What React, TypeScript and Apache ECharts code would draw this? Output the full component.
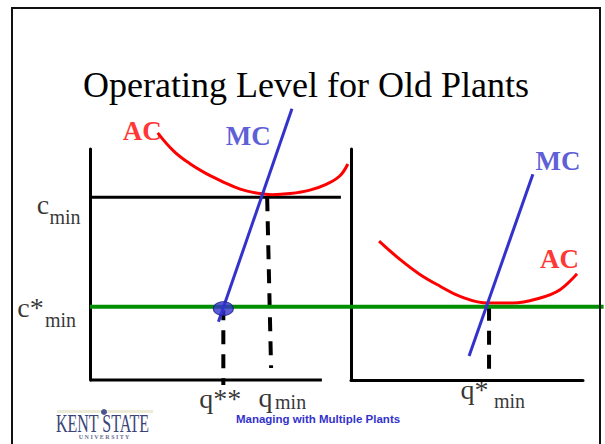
import React, { useEffect, useRef } from 'react';
import * as echarts from 'echarts';

// ---- texts ----
const titleText = 'Operating Level for Old Plants';
const footerText = 'Managing with Multiple Plants';
const logoText = 'KENT STATE';
const logoSubText = 'U N I V E R S I T Y';
const curveNames = ['AC', 'MC'];
const costTickMain = ['c', 'c*'];
const qtyTickMain = ['q**', 'q', 'q*'];
const tickSub = 'min';

// ---- diagram values (each panel: 0..100 on both axes) ----
const panelMax = 100;
const leftReach = 222.1; // left panel's units reach to the page's right edge
const cMin = 79.1;
const cStarMin = 31.7;
const cMinLineEnd = 108.2;
const greenLineEnd = 221.5;
const qStarStar = 57.5;
const qMinTop = 76.4;
const qMinBottom = 78.1;
const qStarMin = 59.5;
const plantDot = [57.5, 30.9];

const leftAC: number[][] = [
  [29.2, 107.0], [36.1, 99.1], [43.3, 93.5], [50.6, 89.1], [57.5, 85.7],
  [64.8, 82.6], [72.1, 80.9], [78.5, 80.2], [86.3, 80.7], [94.8, 82.2],
  [102.1, 84.8], [107.7, 88.3], [111.2, 93.5],
];
const leftMC: number[][] = [[87.1, 117.4], [55.4, 25.2]];
const rightAC: number[][] = [
  [12.1, 60.1], [21.1, 52.2], [29.7, 45.7], [38.4, 40.6], [47.0, 36.2],
  [59.1, 33.3], [69.8, 33.3], [81.5, 35.5], [90.1, 39.1], [97.4, 46.0],
];
const rightMC: number[][] = [[78.4, 89.1], [50.9, 10.4]];

const RED = '#ff0000';
const BLUE = '#3333cc';
const GREEN = '#008f00';
const SERIF = '"Liberation Serif", "Times New Roman", serif';

function txt(value: number[], text: string, dx: number, dy: number, size: number, color = '#000', bold = false) {
  return {
    value,
    label: {
      show: true,
      formatter: text,
      position: [dx, dy],
      align: 'center',
      verticalAlign: 'middle',
      fontSize: size,
      fontFamily: SERIF,
      fontWeight: bold ? 'bold' : 'normal',
      color,
    },
  };
}

export default function App() {
  const ref = useRef<HTMLDivElement>(null);
  useEffect(() => {
    document.body.style.margin = '0';
    const chart = echarts.init(ref.current!, undefined, { renderer: 'svg' });
    const axisLine = { show: true, onZero: false, lineStyle: { color: '#000', width: 3 } };
    const ax = (i: number, max: number, showLine: boolean) => ({
      type: 'value', gridIndex: i, min: 0, max,
      axisLine: showLine ? axisLine : { show: false },
      axisTick: { show: false }, axisLabel: { show: false }, splitLine: { show: false },
    });
    const line = (data: number[][], color: string, width: number, xi: number, extra: any = {}) => ({
      type: 'line', data, xAxisIndex: xi, yAxisIndex: xi, symbol: 'none', clip: false,
      silent: true, lineStyle: { color, width, ...(extra.lineStyle || {}) }, smooth: extra.smooth || false,
      z: extra.z || 3,
    });
    chart.setOption({
      animation: false,
      backgroundColor: '#fff',
      grid: [
        { left: 90, top: 149, width: 2.32 * leftReach, height: 231 },
        { left: 351, top: 149, width: 232, height: 231 },
      ],
      xAxis: [ax(0, leftReach, false), ax(1, panelMax, true)],
      yAxis: [ax(0, panelMax, true), ax(1, panelMax, true)],
      series: [
        line([[0, 0], [panelMax, 0]], '#000', 3, 0, { z: 2 }),
        line([[0, cMin], [cMinLineEnd, cMin]], '#000', 3, 0),
        line(leftAC, RED, 3, 0, { smooth: 0.4 }),
        line([[qMinTop, cMin], [qMinBottom, 5.2]], '#000', 4, 0, { lineStyle: { type: [14, 10] } }),
        line([[qStarStar, cStarMin - 1.5], [qStarStar, -2.2]], '#000', 4, 0, { lineStyle: { type: [14, 10], dashOffset: 4 } }),
        line([[0, cStarMin], [greenLineEnd, cStarMin]], GREEN, 4, 0, { z: 4 }),
        line(leftMC, BLUE, 3, 0, { z: 5 }),
        {
          type: 'scatter', xAxisIndex: 0, yAxisIndex: 0, data: [plantDot], symbol: 'circle', clip: false,
          symbolSize: [20, 14], itemStyle: { color: BLUE, borderColor: '#1c1c80', borderWidth: 1 }, z: 6, silent: true,
        },
        line(rightAC, RED, 3, 1, { smooth: 0.4 }),
        line([[qStarMin, cStarMin], [qStarMin, 2.6]], '#000', 4, 1, { lineStyle: { type: [14, 10] } }),
        line(rightMC, BLUE, 3, 1, { z: 5 }),
        {
          type: 'scatter', xAxisIndex: 0, yAxisIndex: 0, symbolSize: 1, silent: true, z: 7, clip: false,
          itemStyle: { color: 'rgba(0,0,0,0)' },
          data: [
            txt([22.7, 107.4], curveNames[0], 0, 0, 27, RED, true),
            txt([68.5, 105.4], curveNames[1], 0, 0, 27, BLUE, true),
            txt([0, cMin], costTickMain[0], -46.5, 7.5, 28),
            txt([0, cMin], tickSub, -24.5, 20, 20),
            txt([0, cStarMin], costTickMain[1], -59, 1.5, 28),
            txt([0, cStarMin], tickSub, -29, 13.5, 20),
            txt([qStarStar, 0], qtyTickMain[0], -2.5, 19, 28),
            txt([qMinBottom, 0], qtyTickMain[1], -5, 18, 28),
            txt([qMinBottom, 0], tickSub, 20, 22.5, 20),
          ],
        },
        {
          type: 'scatter', xAxisIndex: 1, yAxisIndex: 1, symbolSize: 1, silent: true, z: 7, clip: false,
          itemStyle: { color: 'rgba(0,0,0,0)' },
          data: [
            txt([89.4, 94.6], curveNames[1], 0, 0, 27, BLUE, true),
            txt([90.1, 52.2], curveNames[0], 0, 0, 27, RED, true),
            txt([qStarMin, 0], qtyTickMain[2], -14, 10, 28),
            txt([qStarMin, 0], tickSub, 21, 21, 20),
          ],
        },
      ],
      graphic: [
        { type: 'rect', shape: { x: 12, y: 8, width: 588, height: 460 }, style: { fill: 'none', stroke: '#111', lineWidth: 2 }, z: 10 },
        { type: 'text', x: 306, y: 85, style: { text: titleText, fill: '#000', font: `36px ${SERIF}`, textAlign: 'center', textVerticalAlign: 'middle' } },
        { type: 'text', x: 318, y: 419, style: { text: footerText, fill: BLUE, font: 'bold 11.5px "Liberation Sans", Arial, sans-serif', textAlign: 'center', textVerticalAlign: 'middle' } },
        { type: 'rect', shape: { x: 57, y: 410, width: 96, height: 3 }, style: { fill: '#ecebd8' } },
        { type: 'circle', shape: { cx: 104, cy: 412, r: 3 }, style: { fill: '#4a5590' } },
        { type: 'text', x: 56, y: 424, scaleX: 0.64, style: { text: logoText, fill: '#3b4577', font: `25px ${SERIF}`, textAlign: 'left', textVerticalAlign: 'middle' } },
        { type: 'text', x: 104, y: 437, style: { text: logoSubText, fill: '#6a7090', font: `bold 6px ${SERIF}`, textAlign: 'center', textVerticalAlign: 'middle' } },
      ],
    });
    return () => chart.dispose();
  }, []);
  return <div ref={ref} style={{ width: 605, height: 444 }} />;
}
